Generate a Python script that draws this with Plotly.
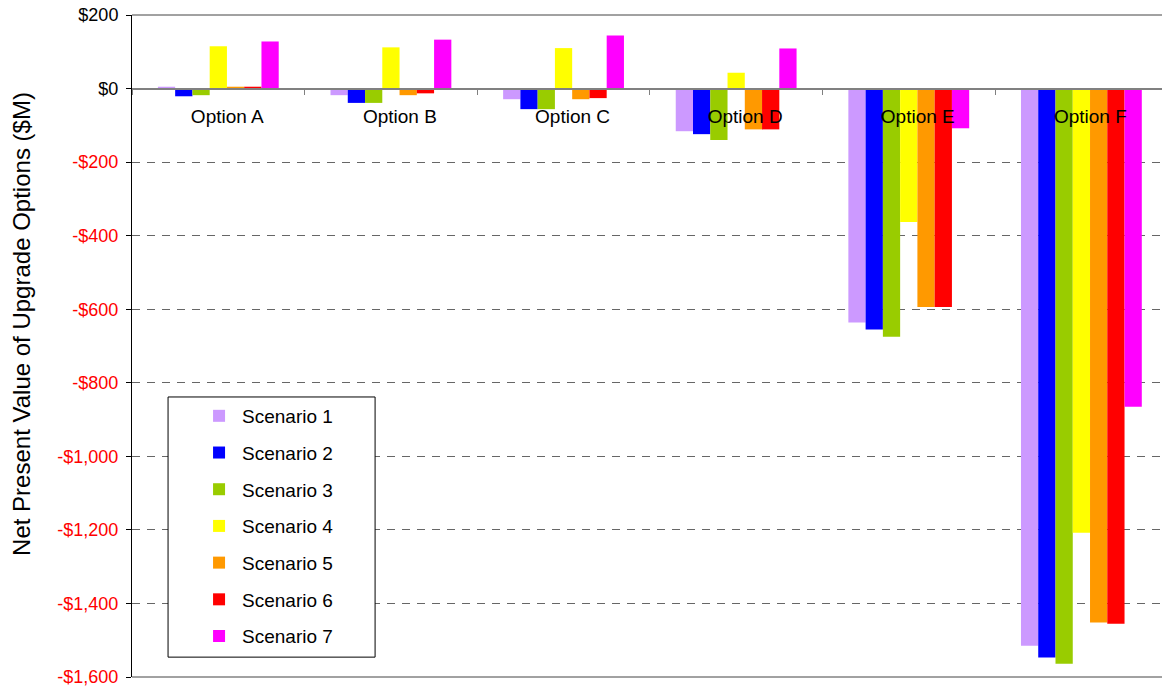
import plotly.graph_objects as go

# Upgrade options and scenario NPVs ($M)
options = ["Option A", "Option B", "Option C", "Option D", "Option E", "Option F"]
scenario_names = ["Scenario 1", "Scenario 2", "Scenario 3", "Scenario 4",
                  "Scenario 5", "Scenario 6", "Scenario 7"]

scenario_1 = [5, -18, -29, -116, -636, -1515]
scenario_2 = [-21, -39, -56, -124, -655, -1547]
scenario_3 = [-18, -39, -56, -140, -675, -1564]
scenario_4 = [115, 112, 110, 43, -363, -1208]
scenario_5 = [5, -18, -29, -111, -594, -1452]
scenario_6 = [5, -13, -26, -111, -594, -1455]
scenario_7 = [128, 133, 144, 109, -108, -865]

colors = ["#CC99FF", "#0000FF", "#99CC00", "#FFFF00", "#FF9900", "#FF0000", "#FF00FF"]

tick_values = [200, 0, -200, -400, -600, -800, -1000, -1200, -1400, -1600]
tick_labels = ["$200", "$0", "-$200", "-$400", "-$600", "-$800",
               "-$1,000", "-$1,200", "-$1,400", "-$1,600"]

y_min, y_max = -1600, 200
font_family = "Liberation Sans, Arial, sans-serif"

series = [scenario_1, scenario_2, scenario_3, scenario_4,
          scenario_5, scenario_6, scenario_7]

fig = go.Figure()
for name, vals, col in zip(scenario_names, series, colors):
    fig.add_trace(go.Bar(
        x=options, y=vals, name=name, marker_color=col,
        marker_line_width=0, legendgroup=name,
    ))

# negative amounts shown in red
tick_text = [
    t if v >= 0 else f'<span style="color:#FF0000">{t}</span>'
    for v, t in zip(tick_values, tick_labels)
]

zero_pos = (0 - y_min) / (y_max - y_min)

fig.update_layout(
    width=1162, height=691,
    margin=dict(l=132, r=0, t=15, b=14),
    paper_bgcolor="white", plot_bgcolor="white",
    font=dict(family=font_family, size=18, color="#000000"),
    barmode="group", bargap=0.3, bargroupgap=0,
    showlegend=True,
    legend=dict(
        x=0.035, y=0.423, xanchor="left", yanchor="top",
        bgcolor="rgba(0,0,0,0)", borderwidth=0,
        font=dict(size=19, family=font_family),
        tracegroupgap=9, traceorder="grouped",
        indentation=28, itemwidth=36,
    ),
    xaxis=dict(
        type="category",
        range=[-0.5, 5.467],
        anchor="free", position=zero_pos,
        showline=True, linecolor="#808080", linewidth=2,
        ticks="outside", tickson="boundaries", ticklen=5,
        tickcolor="#808080", tickwidth=1,
        tickfont=dict(size=19, color="#000000"),
        ticklabelstandoff=11, ticklabelshift=9,
        showgrid=False, zeroline=False,
    ),
    yaxis=dict(
        range=[y_min, y_max],
        tickvals=tick_values, ticktext=tick_text,
        tickfont=dict(size=18, color="#000000"),
        ticklabelstandoff=4,
        showline=True, linecolor="#000000", linewidth=1,
        ticks="outside", ticklen=5, tickcolor="#000000",
        showgrid=True, gridcolor="#666666", gridwidth=1,
        griddash="8px,7px",
        zeroline=False,
    ),
)

# top and bottom frame lines of the plotting area
for yy in (0, 1):
    fig.add_shape(type="line", xref="paper", yref="paper",
                  x0=0, x1=1, y0=yy, y1=yy,
                  line=dict(color="#444444", width=1), layer="above")

# white framed box behind the legend entries
fig.add_shape(type="rect", xref="paper", yref="paper",
              x0=0.035, x1=0.236, y0=0.030, y1=0.423,
              fillcolor="white", line=dict(color="#000000", width=1),
              layer="above")

fig.add_annotation(
    text="Net Present Value of Upgrade Options ($M)",
    xref="paper", yref="paper", x=-0.108, y=0.533,
    textangle=-90, showarrow=False,
    font=dict(size=24, family=font_family, color="#000000"),
    xanchor="center", yanchor="middle",
)

fig.write_html("out.html")
